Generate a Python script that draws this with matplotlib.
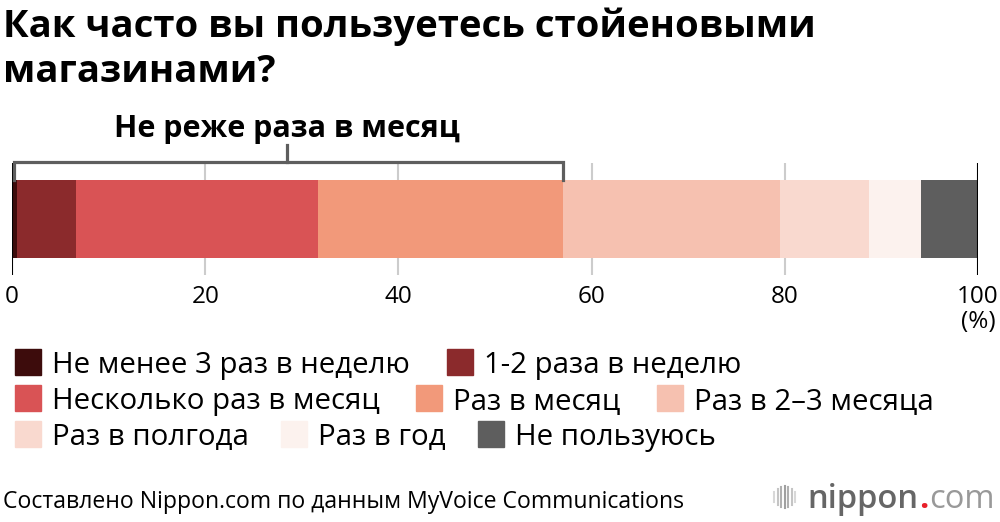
import matplotlib
matplotlib.use("Agg")
from matplotlib import pyplot as plt
from matplotlib.patches import Rectangle
import numpy as np

# shares in %
categories = ["Не менее 3 раз в неделю", "1-2 раза в неделю", "Несколько раз в месяц",
              "Раз в месяц", "Раз в 2–3 месяца", "Раз в полгода", "Раз в год", "Не пользуюсь"]
shares = [0.5, 6.1, 25.1, 25.3, 22.5, 9.2, 5.4, 5.9]
colors = ["#3d0c0c", "#8b2a2c", "#d95355", "#f2997a", "#f6c1b0", "#f9d9cf", "#fcf2ee", "#5e5e5e"]
tick_values = [0, 20, 40, 60, 80, 100]
bracket_label = "Не реже раза в месяц"
bracket_n = 4  # first four categories
title_lines = ["Как часто вы пользуетесь стойеновыми", "магазинами?"]
source = "Составлено Nippon.com по данным MyVoice Communications"

plt.rcParams['font.family'] = ['Open Sans', 'DejaVu Sans']

W, H = 1000, 522
fig = plt.figure(figsize=(W / 100, H / 100), dpi=100)


def fx(px):
    return px / W


def fy(py):
    return 1 - py / H


# axes: x 0 -> px 12, 100 -> px 978 ; y spans px 163..275
ax = fig.add_axes([fx(12), fy(275), fx(978) - fx(12), (275 - 163) / H])
ax.set_xlim(0, 100)
ax.set_ylim(0, 1)
for s in ax.spines.values():
    s.set_visible(False)
ax.set_yticks([])

for v in tick_values:
    if v in (0, 100):
        ax.axvline(v, color="black", lw=1.5, zorder=3)
    else:
        ax.axvline(v, color="#cccccc", lw=1.5, zorder=0)

left = 0
for val, c in zip(shares, colors):
    ax.barh(0.5, val, left=left, height=78 / 112, color=c, zorder=2, linewidth=0)
    left += val

ax.set_xticks(tick_values)
ax.set_xticklabels([str(v) for v in tick_values], fontsize=17.5)
ax.tick_params(axis="x", length=0, pad=7)
ax.text(100, -0.42, "(%)", fontsize=17.5, ha="center", va="center",
        transform=ax.get_xaxis_transform())

# bracket over first categories
tr = ax.get_xaxis_transform()
end = sum(shares[:bracket_n])
y_top = (275 - 162) / 112
y_bot = (275 - 180) / 112
y_tick = (275 - 145) / 112
ax.plot([0.2, 0.2, end, end], [y_bot, y_top, y_top, y_bot], color="#5e5e5e", lw=2.3,
        transform=tr, clip_on=False, solid_joinstyle="miter", zorder=4)
ax.plot([end / 2, end / 2], [y_top, y_tick], color="#5e5e5e", lw=2.3,
        transform=tr, clip_on=False, zorder=4)
ax.text(end / 2, (275 - 137) / 112, bracket_label, fontsize=22, fontweight="bold",
        ha="center", va="baseline", transform=tr)

# title
fig.text(fx(3), fy(37), title_lines[0], fontsize=27.5, fontweight="bold", va="baseline")
fig.text(fx(3), fy(82), title_lines[1], fontsize=27.5, fontweight="bold", va="baseline")

# legend (manual flow layout)
rows = [[0, 1], [2, 3, 4], [5, 6, 7]]
row_x = [[15, 447], [15, 416, 657], [15, 281, 478]]
row_top = [349, 385, 421]
for r, items in enumerate(rows):
    for i, k in enumerate(items):
        x0 = row_x[r][i]
        fig.patches.append(Rectangle((fx(x0), fy(row_top[r] + 26)), fx(26), 26 / H,
                                     transform=fig.transFigure, color=colors[k]))
        fig.text(fx(x0 + 37), fy(row_top[r] + 24), categories[k], fontsize=21.2,
                 va="baseline")

# source + logo
fig.text(fx(3), fy(508), source, fontsize=16.6, va="baseline")
for i, g in enumerate(["#d8d8d8", "#c4c4c4", "#b0b0b0", "#a0a0a0", "#b0b0b0", "#c4c4c4", "#d8d8d8"]):
    hh = [10, 16, 20, 22, 20, 16, 10][i]
    fig.lines.append(plt.Line2D([fx(774 + i * 3.5)] * 2, [fy(497 + hh / 2), fy(497 - hh / 2)],
                                transform=fig.transFigure, color=g, lw=1.5))

renderer = fig.canvas.get_renderer()
xpos = 807
for piece, col, wt in [("nippon", "#666666", "semibold"), (".", "#e8202a", "bold"),
                       ("com", "#999999", "normal")]:
    t = fig.text(fx(xpos), fy(508), piece, fontsize=23.5, fontweight=wt, color=col,
                 va="baseline")
    bb = t.get_window_extent(renderer)
    xpos = bb.x1 + 1

fig.savefig("out.png", dpi=100)
